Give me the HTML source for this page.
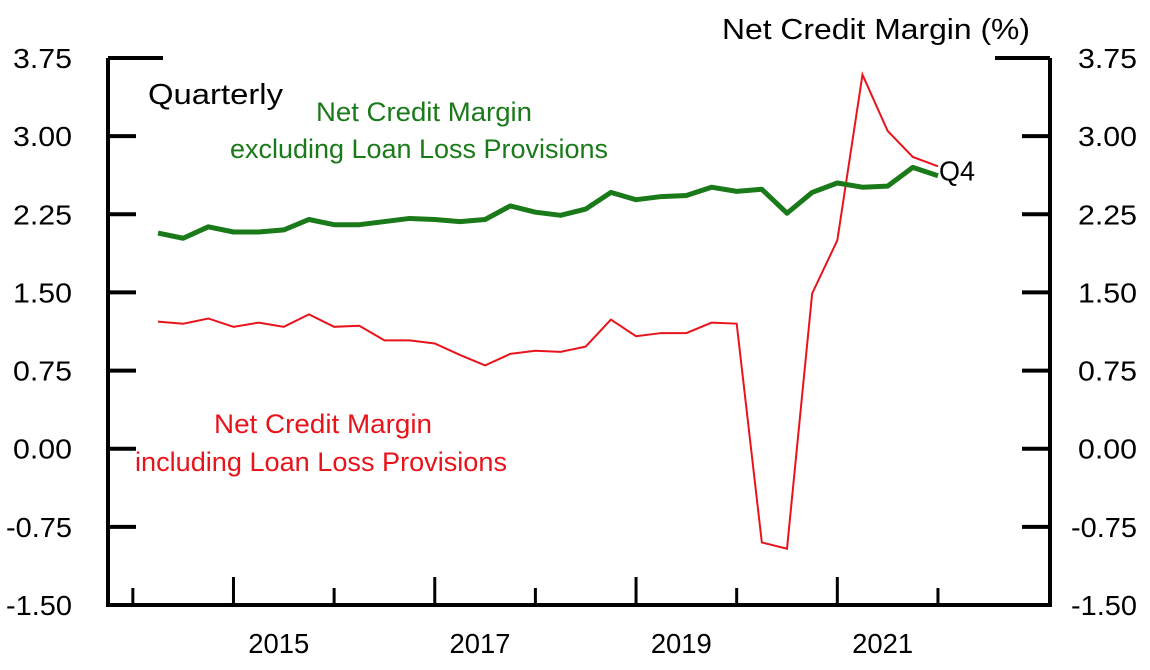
<!DOCTYPE html>
<html><head><meta charset="utf-8"><style>
html,body{margin:0;padding:0;background:#fff;}
svg{display:block;font-family:"Liberation Sans",sans-serif;}
</style></head><body>
<svg id="chart" width="1150" height="670" viewBox="0 0 1150 670">
<g id="axes"></g>
<g id="series"></g>
<text x="722" y="39" font-size="29" textLength="308" lengthAdjust="spacingAndGlyphs" fill="#000">Net Credit Margin (%)</text>
<text x="148" y="104" font-size="29" textLength="135" lengthAdjust="spacingAndGlyphs" fill="#000">Quarterly</text>
<text x="316" y="121" font-size="27" textLength="216" lengthAdjust="spacingAndGlyphs" fill="#1a7a1a">Net Credit Margin</text>
<text x="230" y="158" font-size="27" textLength="378" lengthAdjust="spacingAndGlyphs" fill="#1a7a1a">excluding Loan Loss Provisions</text>
<text x="214" y="433" font-size="27" textLength="218" lengthAdjust="spacingAndGlyphs" fill="#e8141c">Net Credit Margin</text>
<text x="135" y="471" font-size="27" textLength="372" lengthAdjust="spacingAndGlyphs" fill="#e8141c">including Loan Loss Provisions</text>
</svg>
<script>
const yTicks = [3.75, 3.00, 2.25, 1.50, 0.75, 0.00, -0.75, -1.50];
const yearLabels = ["2015", "2017", "2019", "2021"];
const exclProvisions = [2.07,2.02,2.13,2.08,2.08,2.10,2.20,2.15,2.15,2.18,2.21,2.20,2.18,2.20,2.33,2.27,2.24,2.30,2.46,2.39,2.42,2.43,2.51,2.47,2.49,2.26,2.46,2.55,2.51,2.52,2.70,2.62];
const inclProvisions = [1.22,1.20,1.25,1.17,1.21,1.17,1.29,1.17,1.18,1.04,1.04,1.01,0.90,0.80,0.91,0.94,0.93,0.98,1.24,1.08,1.11,1.11,1.21,1.20,-0.90,-0.96,1.49,2.00,3.59,3.05,2.80,2.71];

const NS = "http://www.w3.org/2000/svg";
const L = 108, R = 1050, T = 58, B = 605;
function y(v){ return B - (v + 1.5) / 5.25 * (B - T); }
function x(i){ return 158 + 25.16 * i; }
function mk(tag, attrs, parent){ const e = document.createElementNS(NS, tag); for (const k in attrs) e.setAttribute(k, attrs[k]); parent.appendChild(e); return e; }
const axes = document.getElementById('axes');
const series = document.getElementById('series');

let a = mk('path', {d:`M${L},${T}V${B}H${R}V${T}`, fill:'none', stroke:'#000', 'stroke-width':4}, axes);



yTicks.forEach((v, k) => {
  const yy = y(v);
  const len = k === 0 ? 55 : 28;
  if (k < yTicks.length - 1) {
    let t1 = mk('line', {x1:L, x2:L+len, y1:yy, y2:yy, stroke:'#000', 'stroke-width':4}, axes);
    
    
    let t2 = mk('line', {x1:R-len, x2:R, y1:yy, y2:yy, stroke:'#000', 'stroke-width':4}, axes);
    
    
  }
  const s = v.toFixed(2);
  const w = s.length === 4 ? 59 : 66;
  let l1 = mk('text', {x:72, y:yy+10, 'font-size':28, 'text-anchor':'end', textLength:w, lengthAdjust:'spacingAndGlyphs'}, axes);
  l1.textContent = s;
  
  
  let l2 = mk('text', {x:1137, y:yy+10, 'font-size':28, 'text-anchor':'end', textLength:w, lengthAdjust:'spacingAndGlyphs'}, axes);
  l2.textContent = s;
  
  
});

for (let k = 0; k <= 8; k++) {
  const xx = x(4 * k - 1);
  const h = k % 2 === 1 ? 28 : 17;
  let t = mk('line', {x1:xx, x2:xx, y1:B, y2:B-h, stroke:'#000', 'stroke-width':3}, axes);
  
  
}
yearLabels.forEach((s, k) => {
  let t = mk('text', {x:x(4.8 + 8 * k), y:653, 'font-size':28, 'text-anchor':'middle', textLength:61, lengthAdjust:'spacingAndGlyphs'}, axes);
  t.textContent = s;
  
  
});

let pr = mk('polyline', {points: inclProvisions.map((v,i)=>`${x(i)},${y(v)}`).join(' '), fill:'none', stroke:'#e8141c', 'stroke-width':2}, series);


let pg = mk('polyline', {points: exclProvisions.map((v,i)=>`${x(i)},${y(v)}`).join(' '), fill:'none', stroke:'#1a7a1a', 'stroke-width':5, 'stroke-linejoin':'round'}, series);


const n = inclProvisions.length - 1;
let q = mk('text', {x:x(n)+1, y:y(inclProvisions[n])+14, 'font-size':28, textLength:36, lengthAdjust:'spacingAndGlyphs'}, series);
q.textContent = 'Q4';


</script>
</body></html>
